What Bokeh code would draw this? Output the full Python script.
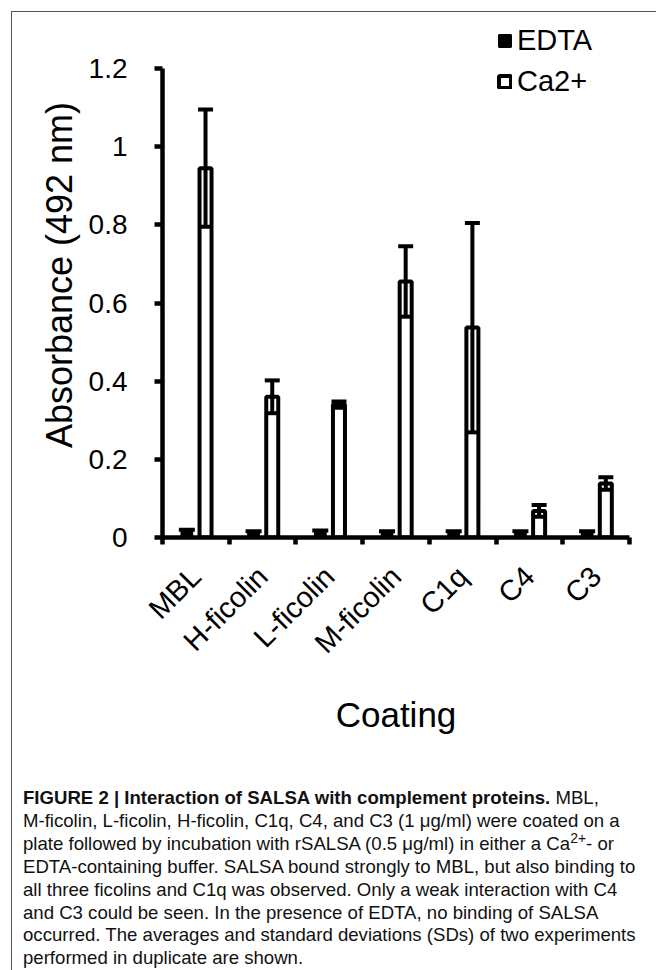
import numpy as np
from math import pi
from bokeh.plotting import figure
from bokeh.models import (Range1d, FixedTicker, LinearAxis, ColumnDataSource,
                          Whisker, TeeHead, Legend, LegendItem, Div)
from bokeh.layouts import column
from bokeh.embed import file_html
from bokeh.resources import INLINE

# ---- data ----
coatings = ["MBL", "H-ficolin", "L-ficolin", "M-ficolin", "C1q", "C4", "C3"]
edta_mean = [0.014, 0.011, 0.013, 0.011, 0.011, 0.011, 0.011]
edta_sd = [0.006, 0.005, 0.005, 0.005, 0.005, 0.005, 0.005]
ca_mean = [0.945, 0.360, 0.340, 0.655, 0.537, 0.068, 0.138]
ca_sd = [0.150, 0.042, 0.008, 0.090, 0.268, 0.015, 0.016]
series_names = ["EDTA", "Ca2+"]
y_ticks = [0, 0.2, 0.4, 0.6, 0.8, 1.0, 1.2]
y_tick_labels = ["0", "0.2", "0.4", "0.6", "0.8", "1", "1.2"]
y_axis_max = 1.2
x_title = "Coating"
y_title = "Absorbance (492 nm)"

FONT = "Liberation Sans"

n = len(coatings)
centers = np.arange(n) + 0.5
bounds = np.arange(n + 1)

# frame: 0 at 525 px below figure top, 1.2 at 56 px below top
FRAME_H = 525
PX_PER_UNIT = (525 - 56) / y_axis_max
y_top = FRAME_H / PX_PER_UNIT

p = figure(width=644, height=770, x_range=Range1d(0, n), y_range=Range1d(0, y_top),
           output_backend="svg", toolbar_location=None, x_axis_type=None,
           min_border_left=150, min_border_right=27, min_border_top=0,
           min_border_bottom=245)
p.outline_line_color = None
p.grid.visible = False
p.background_fill_color = "white"
p.border_fill_color = "white"

src_e = ColumnDataSource(dict(x=centers - 0.135, top=edta_mean,
                              upper=np.array(edta_mean) + np.array(edta_sd),
                              lower=np.array(edta_mean) - np.array(edta_sd)))
src_c = ColumnDataSource(dict(x=centers + 0.145, top=ca_mean,
                              upper=np.array(ca_mean) + np.array(ca_sd),
                              lower=np.array(ca_mean) - np.array(ca_sd)))

r_e = p.vbar(x="x", top="top", width=0.16, source=src_e, fill_color="black",
             line_color="black", line_width=2)
r_c = p.vbar(x="x", top="top", width=0.18, source=src_c, fill_color="white",
             line_color="black", line_width=4)

for src, hs in ((src_e, 16), (src_c, 15)):
    w = Whisker(base="x", upper="upper", lower="lower", source=src,
                line_color="black", line_width=4, level="annotation",
                upper_head=TeeHead(size=hs, line_color="black", line_width=4),
                lower_head=TeeHead(size=12, line_color="black", line_width=4))
    p.add_layout(w)

# y axis (line limited to 0..1.2)
ya = p.yaxis[0]
ya.bounds = (0, y_axis_max)
ya.ticker = FixedTicker(ticks=y_ticks, minor_ticks=[])
ya.major_label_overrides = {t: l for t, l in zip(y_ticks, y_tick_labels)}
ya.axis_line_width = 4.5
ya.major_tick_line_width = 4.5
ya.major_tick_out = 8
ya.major_tick_in = 0
ya.minor_tick_line_color = None
ya.major_label_text_font = FONT
ya.major_label_text_font_size = "28px"
ya.major_label_text_color = "black"
ya.major_label_standoff = 27
ya.axis_line_color = "black"
ya.major_tick_line_color = "black"
ya.axis_label = y_title
ya.axis_label_text_font = FONT
ya.axis_label_text_font_size = "36px"
ya.axis_label_text_font_style = "normal"
ya.axis_label_text_color = "black"
ya.axis_label_standoff = 6

# x axis: labels at category centres, ticks at category boundaries
xa = LinearAxis(ticker=FixedTicker(ticks=list(centers), minor_ticks=list(bounds)))
xa.major_label_overrides = {float(c): name for c, name in zip(centers, coatings)}
xa.major_tick_line_color = None
xa.minor_tick_line_color = "black"
xa.minor_tick_line_width = 4.5
xa.minor_tick_out = 7
xa.minor_tick_in = 0
xa.axis_line_width = 4.5
xa.axis_line_color = "black"
xa.major_label_orientation = pi / 4
xa.major_label_text_font = FONT
xa.major_label_text_font_size = "29px"
xa.major_label_text_color = "black"
xa.major_label_standoff = 27
xa.axis_label = x_title
xa.axis_label_text_font = FONT
xa.axis_label_text_font_size = "35px"
xa.axis_label_text_font_style = "normal"
xa.axis_label_text_color = "black"
xa.axis_label_standoff = 22
p.add_layout(xa, "below")

legend = Legend(items=[LegendItem(label=series_names[0], renderers=[r_e]),
                       LegendItem(label=series_names[1], renderers=[r_c])],
                location=(335, 439), orientation="vertical",
                glyph_width=15, glyph_height=15, label_standoff=5, spacing=8,
                padding=0, margin=0, border_line_color=None,
                background_fill_alpha=0, label_text_font=FONT,
                label_text_font_size="29px", label_text_color="black")
p.add_layout(legend)

caption_html = (
    '<div style="padding-left:6px; white-space:nowrap;">'
    '<b>FIGURE 2 | Interaction of SALSA with complement proteins.</b> MBL,<br>'
    'M-ficolin, L-ficolin, H-ficolin, C1q, C4, and C3 (1 &mu;g/ml) were coated on a<br>'
    'plate followed by incubation with rSALSA (0.5 &mu;g/ml) in either a Ca<sup style="font-size:75%; line-height:0;">2+</sup>- or<br>'
    'EDTA-containing buffer. SALSA bound strongly to MBL, but also binding to<br>'
    'all three ficolins and C1q was observed. Only a weak interaction with C4<br>'
    'and C3 could be seen. In the presence of EDTA, no binding of SALSA<br>'
    'occurred. The averages and standard deviations (SDs) of two experiments<br>'
    'performed in duplicate are shown.</div>'
)
cap = Div(text=caption_html, width=644, height=188,
          styles={"font-family": FONT, "font-size": "18.6px", "line-height": "22.9px",
                  "color": "#111", "overflow": "visible"})

lay = column(p, cap, margin=(11, 0, 0, 11),
             styles={"border-top": "1px solid #555", "border-left": "1px solid #555"})

open("out.html", "w").write(file_html(lay, INLINE))
